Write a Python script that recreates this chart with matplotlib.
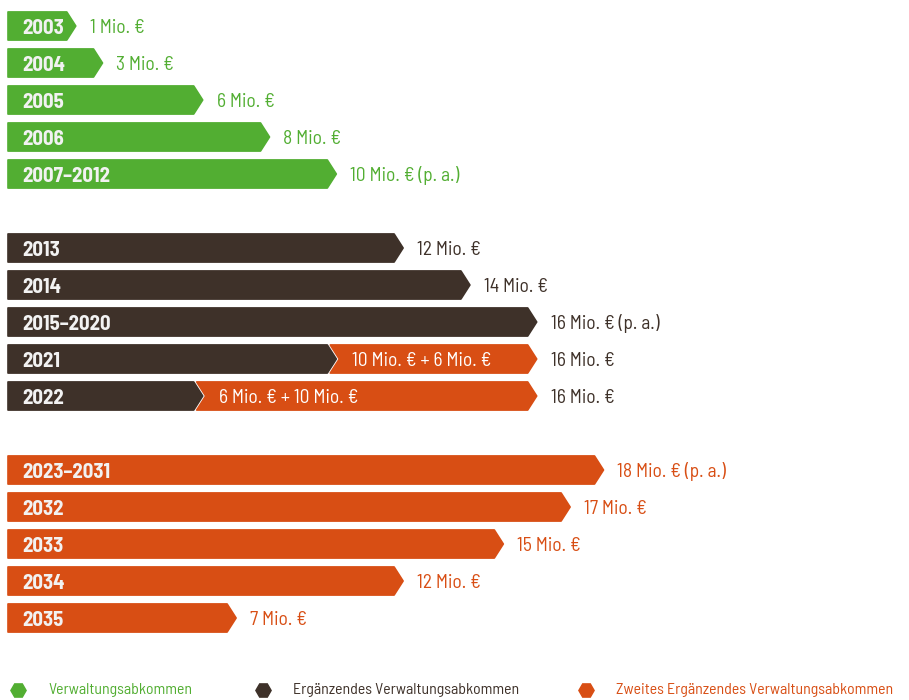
import matplotlib
matplotlib.use("Agg")
import matplotlib.pyplot as plt
from matplotlib.patches import Polygon
from matplotlib.lines import Line2D

# Farben der drei Abkommen
GREEN = "#52AE32"
DARK = "#3E3129"
ORANGE = "#D84E14"

# Verwaltungsabkommen
green_years = ["2003", "2004", "2005", "2006", "2007–2012"]
green_vals = [1, 3, 6, 8, 10]

# Ergänzendes Verwaltungsabkommen
dark_years = ["2013", "2014", "2015–2020"]
dark_vals = [12, 14, 16]

# Übergang: dunkel + orange in einem Balken
split_years = ["2021", "2022"]
split_dark = [10, 6]
split_orange = [6, 10]

# Zweites Ergänzendes Verwaltungsabkommen
orange_years = ["2023–2031", "2032", "2033", "2034", "2035"]
orange_vals = [18, 17, 15, 12, 7]

legend_labels = ["Verwaltungsabkommen", "Ergänzendes Verwaltungsabkommen",
                 "Zweites Ergänzendes Verwaltungsabkommen"]

plt.rcParams['font.family'] = ['Barlow Semi Condensed', 'Barlow Condensed',
                               'Roboto Condensed', 'DejaVu Sans']

PX = 33.4          # pixel je Mio. €
ROW = 37           # pixel je Zeile
H = 0.76           # Balkenhöhe in Zeilen
TIP = 9 / PX       # Länge der Pfeilspitze
GAP = 3 / PX
X0 = 5.7 / PX      # Balkenanfang
MIN_LEN = 2.2      # damit die Jahreszahl in den Balken passt
FS = 14

fig = plt.figure(figsize=(9.09, 7.0), dpi=100)
ax = fig.add_axes([0, 0, 1, 1])
ax.set_xlim(-2.3 / PX, (909 - 2.3) / PX)
ax.set_ylim((700 - 26) / ROW, -26 / ROW)
ax.axis('off')


def arrow(x0, x1, y, color, notch=False):
    t, b = y - H / 2, y + H / 2
    if notch:
        pts = [(x0, t), (x1 - TIP, t), (x1, y), (x1 - TIP, b), (x0, b), (x0 + TIP, y)]
    else:
        pts = [(x0, t), (x1 - TIP, t), (x1, y), (x1 - TIP, b), (x0, b)]
    ax.add_patch(Polygon(pts, closed=True, fc=color, ec=color, lw=1.2, joinstyle='round'))


def year_label(y, txt):
    ax.text(X0 + 14 / PX, y + 0.08, txt, color='#F2F2F2', fontsize=15,
            fontweight='bold', ha='left', va='center')


def value_label(x, y, txt, color):
    ax.text(x + 14 / PX, y + 0.05, txt, color=color, fontsize=FS, ha='left', va='center')


def simple_group(start, years, vals, color):
    for i, (yr, v) in enumerate(zip(years, vals)):
        y = start + i
        end = max(v, MIN_LEN)
        arrow(X0, end, y, color)
        year_label(y, yr)
        suffix = " (p. a.)" if "–" in yr else ""
        value_label(end, y, f"{v} Mio. €{suffix}", color)


simple_group(0, green_years, green_vals, GREEN)
simple_group(6, dark_years, dark_vals, DARK)

for i, (yr, d, o) in enumerate(zip(split_years, split_dark, split_orange)):
    y = 9 + i
    arrow(X0, d, y, DARK)
    arrow(d - TIP + GAP, d + o, y, ORANGE, notch=True)
    year_label(y, yr)
    ax.text(d + GAP + 13 / PX, y + 0.05, f"{d} Mio. € + {o} Mio. €", color='white',
            fontsize=FS, ha='left', va='center')
    value_label(d + o, y, f"{d + o} Mio. €", DARK)

simple_group(12, orange_years, orange_vals, ORANGE)

# Legende
leg_x = [18, 263, 586]
ly = 1 - 690 / 700
for lx, lab, col in zip(leg_x, legend_labels, [GREEN, DARK, ORANGE]):
    fig.add_artist(Line2D([lx / 909], [ly], marker='H', ms=11, color=col,
                          transform=fig.transFigure, ls='none'))
    fig.text((lx + 30) / 909, ly, lab, color=col, fontsize=11.4, ha='left', va='center')

fig.savefig("out.png", dpi=100)
